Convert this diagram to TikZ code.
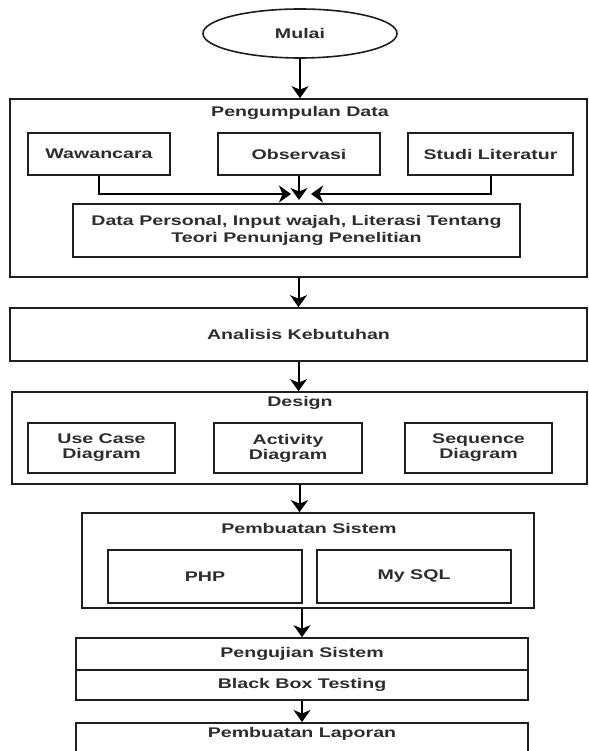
\documentclass[tikz,border=0pt]{standalone}
\usepackage{fontspec}
\setmainfont{Liberation Sans}
\usepackage{graphicx}
\usetikzlibrary{shapes.geometric,arrows.meta}
\newcommand{\stx}[1]{\scalebox{1.4}[1]{#1}}
\definecolor{ln}{RGB}{30,30,30}
\definecolor{tx}{RGB}{45,45,45}
\tikzset{
  box/.style={draw=ln, line width=1.7pt, rectangle, inner sep=0pt, fill=white},
  txt/.style={text=tx, font=\fontsize{14}{15}\selectfont\bfseries, align=center, inner sep=0pt},
  arr/.style={draw=black, line width=2pt, -{Stealth[length=12pt,width=17pt,inset=3.5pt]}},
}
\begin{document}
\begin{tikzpicture}[x=1pt,y=-1pt]
\useasboundingbox (0,0) rectangle (588,751);
\clip (0,0) rectangle (588,751);
\fill[white] (0,0) rectangle (588,751);

% Mulai
\node[box, ellipse, txt, minimum width=194pt, minimum height=49pt, line width=1.6pt] (mulai) at (300,33.5) {\stx{Mulai}};

% Pengumpulan Data
\node[box, minimum width=577pt, minimum height=178pt] (pd) at (298.5,188) {};
\node[txt] (pdt) at (300,113) {\stx{Pengumpulan Data}};
\node[box, txt, minimum width=142pt, minimum height=42pt] (w) at (99,154) {\stx{Wawancara}};
\node[box, txt, minimum width=162pt, minimum height=42pt] (o) at (299,154) {\stx{Observasi}};
\node[box, txt, minimum width=165pt, minimum height=42pt] (s) at (490.5,154) {\stx{Studi Literatur}};
\node[box, txt, minimum width=447pt, minimum height=53pt, font=\fontsize{14}{17}\selectfont\bfseries] (data) at (296.5,230.5)
  {\stx{Data Personal, Input wajah, Literasi Tentang}\\\stx{Teori Penunjang Penelitian}};
\coordinate (jl) at (291,194);
\coordinate (jc) at (299,200);
\coordinate (jr) at (311,194);
\draw[arr] (w.south) |- (jl);
\draw[arr] (o.south) -- (jc);
\draw[arr] (s.south) |- (jr);

% Analisis Kebutuhan
\node[box, txt, minimum width=577pt, minimum height=53pt] (ak) at (298.5,334.5) {\stx{Analisis Kebutuhan}};

% Design
\node[box, minimum width=575pt, minimum height=92pt] (ds) at (299.5,438) {};
\node[txt] (dst) at (300,403) {\stx{Design}};
\node[box, txt, minimum width=147pt, minimum height=50pt] (uc) at (101.5,448) {\stx{Use Case}\\\stx{Diagram}};
\node[box, txt, minimum width=148pt, minimum height=50pt] (act) at (288,448) {\stx{Activity}\\\stx{Diagram}};
\node[box, txt, minimum width=147pt, minimum height=50pt] (seq) at (478.5,448) {\stx{Sequence}\\\stx{Diagram}};

% Pembuatan Sistem
\node[box, minimum width=452pt, minimum height=95pt] (ps) at (308,560.5) {};
\node[txt] (pst) at (309,528) {\stx{Pembuatan Sistem}};
\node[box, txt, minimum width=194pt, minimum height=53pt] (php) at (205,576.5) {\stx{PHP}};
\node[box, txt, minimum width=194pt, minimum height=53pt] (sql) at (414,576.5) {\stx{My SQL}};

% Pengujian Sistem
\node[box, txt, minimum width=452pt, minimum height=32pt] (pu) at (302,654) {\stx{Pengujian Sistem}};
\node[box, txt, minimum width=452pt, minimum height=30pt] (bb) at (302,685) {\stx{Black Box Testing}};

% Pembuatan Laporan
\node[box, anchor=north, minimum width=452pt, minimum height=50pt] (lp) at (302,722) {};
\node[txt] (lpt) at (302,734) {\stx{Pembuatan Laporan}};

% main flow
\draw[arr] (mulai.south) -- (mulai.south |- pd.north);
\draw[arr] (pd.south) -- (ak.north);
\draw[arr] (ak.south) -- (ak.south |- ds.north);
\draw[arr] (ds.south) -- (ds.south |- ps.north);
\draw[arr] (pu.north |- ps.south) -- (pu.north);
\draw[arr] (bb.south) -- (lp.north);
\end{tikzpicture}
\end{document}
